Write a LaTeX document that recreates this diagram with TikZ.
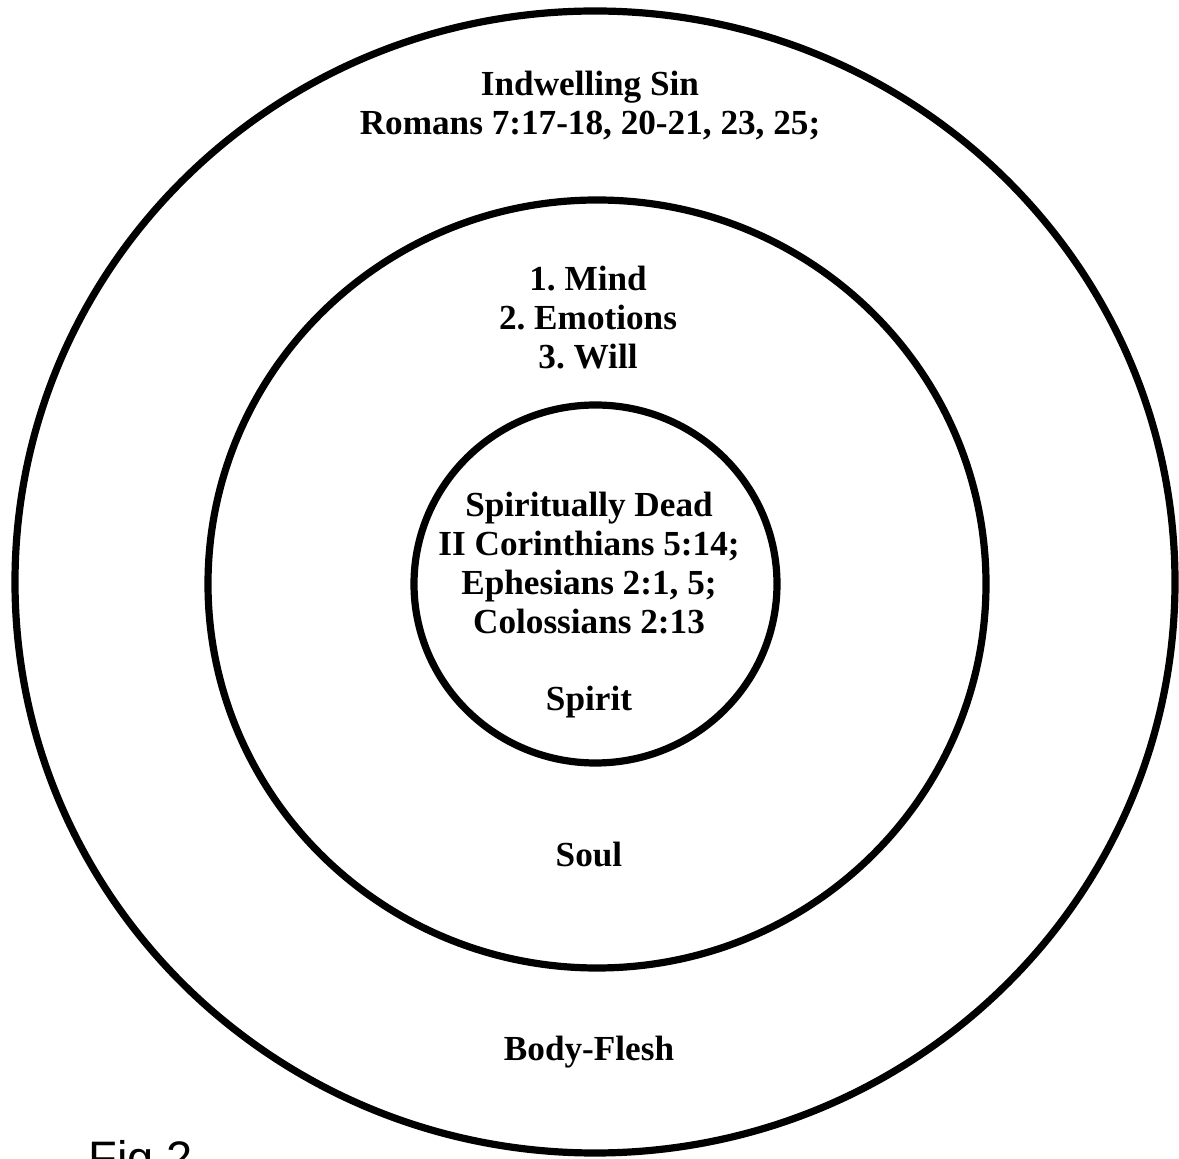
\documentclass[tikz,border=0pt]{standalone}
\usepackage{fontspec}
\setmainfont{Liberation Serif}
\setsansfont{Liberation Sans}
\definecolor{ink}{HTML}{000000}
\frenchspacing

\begin{document}
\begin{tikzpicture}[x=0.5pt,y=-0.5pt,
  ring/.style={draw=ink,line width=3.6pt},
  lbl/.style={font=\fontsize{17.6}{19.5}\selectfont\bfseries,text=ink,align=center,inner sep=0pt},
  figlbl/.style={font=\sffamily\fontsize{23.5}{28}\selectfont,text=ink,inner sep=0pt}]
  \useasboundingbox (0,0) rectangle (1179,1159);

  % ===== rings =====
  \draw[ring] (595,582) ellipse [x radius=290pt,y radius=285.5pt];
  \draw[ring] (597,584) ellipse [x radius=194.5pt,y radius=192pt];
  \draw[ring] (595.5,584) ellipse [x radius=90.75pt,y radius=89.5pt];

  % ===== labels =====
  \node[lbl] (sin) at (590,106) {Indwelling Sin\\Romans 7:17-18, 20-21, 23, 25;};
  \node[lbl] (faculties) at (588,318) {1. Mind\\2. Emotions\\3. Will};
  \node[lbl] (dead) at (589,563) {Spiritually Dead\\II Corinthians 5:14;\\Ephesians 2:1, 5;\\Colossians 2:13};
  \node[lbl,anchor=base] (spirit) at (589,711) {Spirit};
  \node[lbl,anchor=base] (soul) at (589,867) {Soul};
  \node[lbl,anchor=base] (body) at (589,1061) {Body-Flesh};
  \node[figlbl,anchor=base west] (fig) at (88,1174) {Fig 2};
\end{tikzpicture}
\end{document}
